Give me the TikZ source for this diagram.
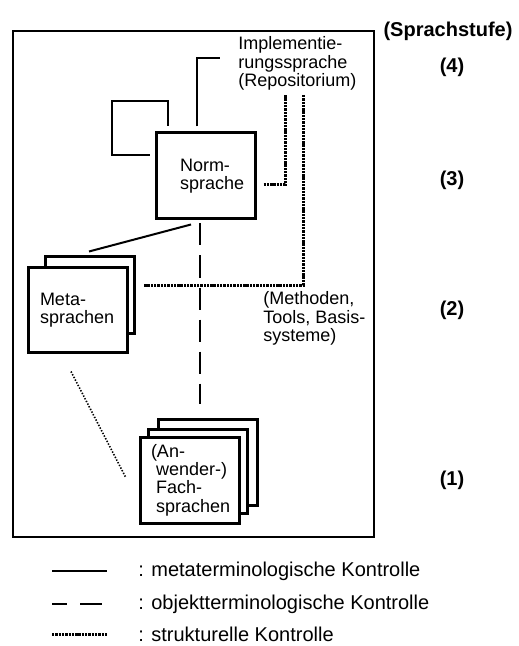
\documentclass[tikz,border=0pt]{standalone}
\usepackage{fontspec}
\setmainfont{Liberation Sans}
\hyphenpenalty=10000

\begin{document}
\begin{tikzpicture}[x=0.5pt, y=-0.5pt,
  beschriftung/.style={align=left, inner sep=0pt, font=\fontsize{9}{9.2}\selectfont},
  legende/.style={anchor=west, inner sep=0pt, font=\fontsize{10}{12}\selectfont},
  stufe/.style={inner sep=0pt, font=\fontsize{10}{12}\selectfont\bfseries},
  sprachbox/.style={draw, line width=1.5pt, fill=white, align=left, inner sep=0pt, font=\fontsize{9}{9.2}\selectfont, minimum width=49.5pt, minimum height=43pt},
  meta/.style={line width=1pt},
  objekt/.style={line width=1pt, dash pattern=on 11pt off 5pt},
  struktur/.style={line width=1.5pt, dash pattern=on 1.2pt off 0.45pt},
  strukturduenn/.style={line width=0.8pt, dash pattern=on 0.7pt off 0.8pt}]
\useasboundingbox (0,0) rectangle (518,646);

\draw [line width=0.75pt] (13,31) rectangle (374,537);

% Sprachstufen
\node [stufe] (stufe) at (448,31) {(Sprachstufe)};
\node [stufe] (stufe4) at (452,67) {(4)};
\node [stufe] (stufe3) at (452,180) {(3)};
\node [stufe] (stufe2) at (452,310) {(2)};
\node [stufe] (stufe1) at (452,480) {(1)};

% Sprachen
\node [sprachbox, text width=25.5pt] (normsprache) at (205.5,176) {Norm-\\sprache};
\node [sprachbox, minimum width=44.5pt, minimum height=38pt] (metaback) at (89.5,295) {};
\node [sprachbox, text width=37.5pt, minimum height=42.5pt] (metasprachen) at (77.5,310) {Meta-\\sprachen};
\node [sprachbox] (fachback) at (207.5,462) {};
\node [sprachbox, minimum height=42pt] (fachmitte) at (197.5,471) {};
\node [sprachbox, text width=38.5pt] (fachsprachen) at (189.5,480) {(An-\\\hspace*{2.5pt}wender-)\\\hspace*{2.5pt}Fach-\\\hspace*{2.5pt}sprachen};

\node [beschriftung, anchor=west] (implementierung) at (238,63.5) {Implementie-\\rungssprache\\(Repositorium)};
\node [beschriftung, anchor=west] (tools) at (263,318.5) {(Methoden,\\Tools, Basis-\\systeme)};
\coordinate (repoA) at (285,95);
\coordinate (repoB) at (303,95);

% Kontrollen
\draw [line width=0.75pt] ([shift={(-5,-21)}]normsprache.west) -- (112,155) -- (112,101) -- (168,101) -- ([shift={(-37.5,-5)}]normsprache.north);
\draw [meta] ([shift={(-8.5,-5)}]normsprache.north) |- ([shift={(-18,-5.5)}]implementierung.west);
\draw [meta] ([shift={(-14.5,4)}]normsprache.south) -- ([shift={(-0.5,-4)}]metaback.north);
\draw [objekt] ([shift={(-5.5,3)}]normsprache.south) -- ([shift={(-7.5,-14)}]fachback.north);
\draw [struktur] ([shift={(7,9)}]normsprache.east) -| (repoA);
\draw [struktur] (repoB) |- ([shift={(8,-10)}]metaback.east);
\draw [strukturduenn] ([shift={(-6.5,17.5)}]metasprachen.south) -- ([shift={(-13,-3)}]fachsprachen.west);

% Legende
\node [legende] (legmeta) at (138,571) {: metaterminologische Kontrolle};
\node [legende] (legobjekt) at (138,604) {: objektterminologische Kontrolle};
\node [legende] (legstruktur) at (138,634) {: strukturelle Kontrolle};
\draw [meta] ([shift={(-86,0)}]legmeta.west) -- ++(55,0);
\draw [meta, dash pattern=on 7.5pt off 6.5pt on 11pt off 5pt] ([shift={(-86,0)}]legobjekt.west) -- ++(50,0);
\draw [struktur] ([shift={(-86,0)}]legstruktur.west) -- ++(55,0);

\end{tikzpicture}
\end{document}
